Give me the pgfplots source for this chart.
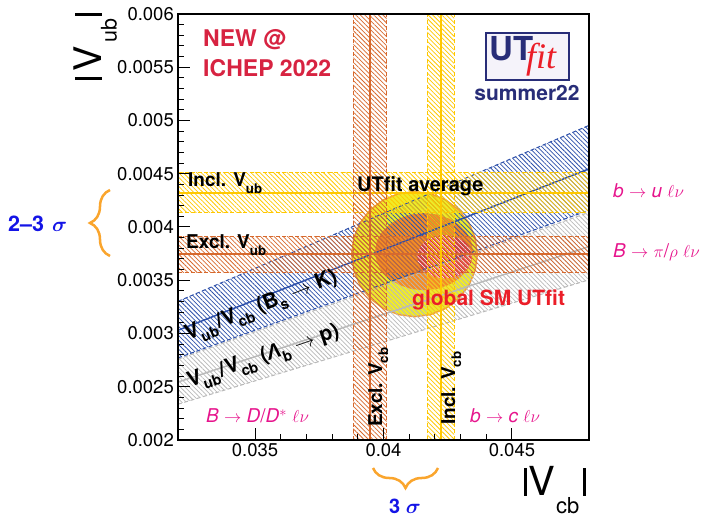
\documentclass[border=0pt]{standalone}
\usepackage{fontspec}
\setmainfont{TeX Gyre Heros}
\newfontfamily\logoserif{Liberation Serif}
\newfontfamily\greekfont{Liberation Sans}
\usepackage{graphicx}
\usepackage{pgfplots}
\pgfplotsset{compat=1.18}
\usetikzlibrary{patterns.meta,decorations.pathreplacing}

\newcommand\fs[1]{\fontsize{#1}{#1}\selectfont}
\newcommand\lo[1]{\raisebox{-0.32em}{\scalebox{0.7}{#1}}}

\definecolor{inclY}{RGB}{255,200,0}
\definecolor{exclO}{RGB}{215,105,45}
\definecolor{bsBlue}{RGB}{45,80,170}
\definecolor{lbGray}{RGB}{185,185,185}
\definecolor{avgYellow}{RGB}{240,235,40}
\definecolor{avgEdge}{RGB}{245,160,50}
\definecolor{avgOrange}{RGB}{245,140,35}
\definecolor{smRed}{RGB}{235,30,40}
\definecolor{newRed}{RGB}{215,35,65}
\definecolor{utNavy}{RGB}{40,45,120}
\definecolor{logoBack}{RGB}{245,243,250}
\definecolor{procPink}{RGB}{230,20,140}
\definecolor{sigBlue}{RGB}{20,20,230}
\definecolor{braceOrange}{RGB}{250,165,45}

\tikzset{
  hatch/.style={draw=none, pattern={Lines[angle=-45,distance=3.2pt,line width=0.75pt]}, pattern color=#1},
  bandedge/.style={draw=#1, line width=1pt, dash pattern=on 4pt off 2.5pt},
  bandline/.style={draw=#1, line width=2pt},
}

\begin{document}
\begin{tikzpicture}
\begin{axis}[
  at={(178pt,79pt)}, anchor=south west,
  width=411pt, height=426pt, scale only axis,
  xmin=0.032, xmax=0.048, ymin=0.002, ymax=0.006,
  xtick={0.035,0.04,0.045},
  ytick={0.002,0.0025,0.003,0.0035,0.004,0.0045,0.005,0.0055,0.006},
  minor x tick num=4, minor y tick num=4,
  tick align=inside, xtick pos=bottom, ytick pos=left,
  major tick length=12pt, minor tick length=6pt,
  scaled ticks=false,
  /pgf/number format/assume math mode=true,
  xticklabel style={/pgf/number format/fixed, /pgf/number format/precision=3},
  yticklabel style={/pgf/number format/fixed, /pgf/number format/precision=4, inner xsep=4pt},
  ticklabel style={font=\fs{18.5}},
  axis line style={line width=2pt},
  tick style={line width=1pt, black},
  axis on top,
  no markers,
]
% UTfit average: outer and inner regions
\addplot[fill=avgYellow, draw=avgEdge, line width=1.5pt] coordinates {
 (0.043652,0.003745) (0.043569,0.003897) (0.043324,0.004039) (0.042936,0.004160)
 (0.042430,0.004253) (0.041840,0.004312) (0.041207,0.004332) (0.040574,0.004312)
 (0.039985,0.004253) (0.039478,0.004160) (0.039090,0.004039) (0.038845,0.003897)
 (0.038762,0.003745) (0.038845,0.003593) (0.039090,0.003452) (0.039478,0.003330)
 (0.039985,0.003237) (0.040574,0.003178) (0.041207,0.003158) (0.041840,0.003178)
 (0.042430,0.003237) (0.042936,0.003330) (0.043324,0.003452) (0.043569,0.003593)
 (0.043652,0.003745)};
\addplot[fill=avgOrange, draw=none] coordinates {
 (0.043485,0.003768) (0.043420,0.003862) (0.043229,0.003949) (0.042926,0.004024)
 (0.042531,0.004081) (0.042071,0.004118) (0.041577,0.004130) (0.041083,0.004118)
 (0.040623,0.004081) (0.040228,0.004024) (0.039925,0.003949) (0.039734,0.003862)
 (0.039669,0.003768) (0.039734,0.003674) (0.039925,0.003587) (0.040228,0.003512)
 (0.040623,0.003455) (0.041083,0.003418) (0.041577,0.003406) (0.042071,0.003418)
 (0.042531,0.003455) (0.042926,0.003512) (0.043229,0.003587) (0.043420,0.003674)
 (0.043485,0.003768)};
% global SM fit
\addplot[fill=smRed, draw=none] coordinates {
 (0.043434,0.003721) (0.043398,0.003774) (0.043292,0.003823) (0.043124,0.003865)
 (0.042905,0.003898) (0.042649,0.003918) (0.042375,0.003925) (0.042101,0.003918)
 (0.041845,0.003898) (0.041626,0.003865) (0.041458,0.003823) (0.041352,0.003774)
 (0.041316,0.003721) (0.041352,0.003668) (0.041458,0.003619) (0.041626,0.003577)
 (0.041845,0.003544) (0.042101,0.003524) (0.042375,0.003517) (0.042649,0.003524)
 (0.042905,0.003544) (0.043124,0.003577) (0.043292,0.003619) (0.043398,0.003668)
 (0.043434,0.003721)};
\addplot[draw=none, pattern={Lines[angle=-45,distance=3.2pt,line width=0.9pt,xshift=1.6pt]}, pattern color=white!85!smRed] coordinates {
 (0.043434,0.003721) (0.043398,0.003774) (0.043292,0.003823) (0.043124,0.003865)
 (0.042905,0.003898) (0.042649,0.003918) (0.042375,0.003925) (0.042101,0.003918)
 (0.041845,0.003898) (0.041626,0.003865) (0.041458,0.003823) (0.041352,0.003774)
 (0.041316,0.003721) (0.041352,0.003668) (0.041458,0.003619) (0.041626,0.003577)
 (0.041845,0.003544) (0.042101,0.003524) (0.042375,0.003517) (0.042649,0.003524)
 (0.042905,0.003544) (0.043124,0.003577) (0.043292,0.003619) (0.043398,0.003668)
 (0.043434,0.003721)};

% |Vub/Vcb| from Lambda_b -> p mu nu : 0.0795 (0.0730 - 0.0862)
\addplot[hatch=lbGray] coordinates {(0.032,0.002336) (0.048,0.003504) (0.048,0.004138) (0.032,0.002758) (0.032,0.002336)};
\addplot[bandedge=lbGray] coordinates {(0.032,0.002336) (0.048,0.003504)};
\addplot[bandedge=lbGray] coordinates {(0.032,0.002758) (0.048,0.004138)};
\addplot[bandline=lbGray, line width=1.5pt] coordinates {(0.032,0.002544) (0.048,0.003816)};

% |Vub/Vcb| from Bs -> K mu nu : 0.0947 (0.0866 - 0.1032)
\addplot[hatch=bsBlue] coordinates {(0.032,0.002771) (0.048,0.004157) (0.048,0.004954) (0.032,0.003302) (0.032,0.002771)};
\addplot[bandedge=bsBlue] coordinates {(0.032,0.002771) (0.048,0.004157)};
\addplot[bandedge=bsBlue] coordinates {(0.032,0.003302) (0.048,0.004954)};
\addplot[bandline=bsBlue, line width=1.5pt] coordinates {(0.032,0.003030) (0.048,0.004546)};

% inclusive |Vub|
\addplot[hatch=inclY] coordinates {(0.032,0.004134) (0.048,0.004134) (0.048,0.004510) (0.032,0.004510) (0.032,0.004134)};
\addplot[bandedge=inclY] coordinates {(0.032,0.004134) (0.048,0.004134)};
\addplot[bandedge=inclY] coordinates {(0.032,0.004510) (0.048,0.004510)};
\addplot[bandline=inclY] coordinates {(0.032,0.004322) (0.048,0.004322)};

% exclusive |Vub|
\addplot[hatch=exclO] coordinates {(0.032,0.003571) (0.048,0.003571) (0.048,0.003909) (0.032,0.003909) (0.032,0.003571)};
\addplot[bandedge=exclO] coordinates {(0.032,0.003571) (0.048,0.003571)};
\addplot[bandedge=exclO] coordinates {(0.032,0.003909) (0.048,0.003909)};
\addplot[bandline=exclO] coordinates {(0.032,0.003744) (0.048,0.003744)};

% exclusive |Vcb|
\addplot[hatch=exclO] coordinates {(0.038825,0.002) (0.040125,0.002) (0.040125,0.006) (0.038825,0.006) (0.038825,0.002)};
\addplot[bandedge=exclO] coordinates {(0.038825,0.002) (0.038825,0.006)};
\addplot[bandedge=exclO] coordinates {(0.040125,0.002) (0.040125,0.006)};
\addplot[bandline=exclO] coordinates {(0.039475,0.002) (0.039475,0.006)};

% inclusive |Vcb|
\addplot[hatch=inclY] coordinates {(0.041706,0.002) (0.042745,0.002) (0.042745,0.006) (0.041706,0.006) (0.041706,0.002)};
\addplot[bandedge=inclY] coordinates {(0.041706,0.002) (0.041706,0.006)};
\addplot[bandedge=inclY] coordinates {(0.042745,0.002) (0.042745,0.006)};
\addplot[bandline=inclY] coordinates {(0.042238,0.002) (0.042238,0.006)};
\end{axis}

\begin{scope}[x=1pt, y=-1pt, yshift=519pt, every node/.style={inner sep=0pt}]
  % labels inside the frame
  \node[anchor=base west, font=\bfseries\fs{23}, text=newRed] at (203,47) {NEW @};
  \node[anchor=base west, font=\bfseries\fs{23}, text=newRed] at (203,77) {ICHEP 2022};
  \draw[draw=utNavy, line width=1.5pt, fill=logoBack] (486,33) rectangle (569,80);
  \node[anchor=base west, font=\bfseries\fs{33}, text=utNavy] at (489,61) {UT};
  \node[anchor=base west, font=\logoserif\itshape\fs{36}, text=smRed] at (526,69) {fit};
  \node[anchor=base, font=\bfseries\fs{21}, text=utNavy] at (527,101) {summer22};

  \node[anchor=base west, font=\bfseries\fs{19}] at (188,187) {Incl. V\lo{ub}};
  \node[anchor=base west, font=\bfseries\fs{19}] at (186,249) {Excl. V\lo{ub}};
  \node[anchor=base west, font=\bfseries\fs{20}] at (357,192) {UTfit average};
  \node[anchor=base west, font=\bfseries\fs{21}, text=smRed] at (412,306) {global SM UTfit};
  \node[anchor=base west, rotate=90, font=\bfseries\fs{19}] at (382,427) {Excl. V\lo{cb}};
  \node[anchor=base west, rotate=90, font=\bfseries\fs{19}] at (455,425) {Incl. V\lo{cb}};
  \node[anchor=base west, rotate=21.5, font=\bfseries\fs{21}] at (188,341)
    {V\lo{ub}\hspace{1pt}/\hspace{1pt}V\lo{cb} (B\lo{s} $\rightarrow$ K)};
  \node[anchor=base west, rotate=19, font=\bfseries\fs{21}] at (190,388)
    {V\lo{ub}\hspace{1pt}/\hspace{1pt}V\lo{cb} ({\greekfont\bfseries\itshape Λ}\lo{b} $\rightarrow$ p)};

  % decay channels
  \node[anchor=base west, font=\fs{19}, text=procPink] at (206,423)
    {\textit{B} $\rightarrow$ \textit{D}/\textit{D}$^{*}$ $\ell\nu$};
  \node[anchor=base west, font=\fs{19}, text=procPink] at (470,423)
    {\textit{b} $\rightarrow$ \textit{c} $\ell\nu$};
  \node[anchor=base west, font=\fs{19}, text=procPink] at (613,198)
    {\textit{b} $\rightarrow$ \textit{u} $\ell\nu$};
  \node[anchor=base west, font=\fs{19}, text=procPink] at (613,258)
    {\textit{B} $\rightarrow$ $\pi$/$\rho$ $\ell\nu$};

  % tension markers
  \node[anchor=base west, font=\bfseries\fs{21.5}, text=sigBlue] at (8,232) {2--3\hspace{2pt} {\boldmath$\sigma$}};
  \draw[braceOrange, line width=2.5pt, decorate, decoration={brace, amplitude=20pt}] (110,256) -- (110,190);
  \draw[braceOrange, line width=2.5pt, decorate, decoration={brace, amplitude=20pt}] (438,468) -- (373,468);
  \node[anchor=base, font=\bfseries\fs{20}, text=sigBlue] at (405,514) {3 {\boldmath$\sigma$}};

  % axis titles
  \node[anchor=base west, rotate=90, font=\fs{38}] at (101.7,80)
    {\rule{3pt}{27pt}\hspace{5pt}V\hspace{3.5pt}\raisebox{-15pt}{\fs{21.5}ub}\hspace{3pt}\rule{3pt}{27pt}};
  \node[anchor=base west, font=\fs{40}] at (523.3,496)
    {\rule{3.4pt}{28pt}\hspace{1.3pt}V\hspace{1.3pt}\raisebox{-18pt}{\fs{22}cb}\hspace{3.3pt}\rule{3.4pt}{28pt}};
\end{scope}
\pgfresetboundingbox
\path[use as bounding box] (0,0) rectangle (728pt,519pt);
\end{tikzpicture}
\end{document}
